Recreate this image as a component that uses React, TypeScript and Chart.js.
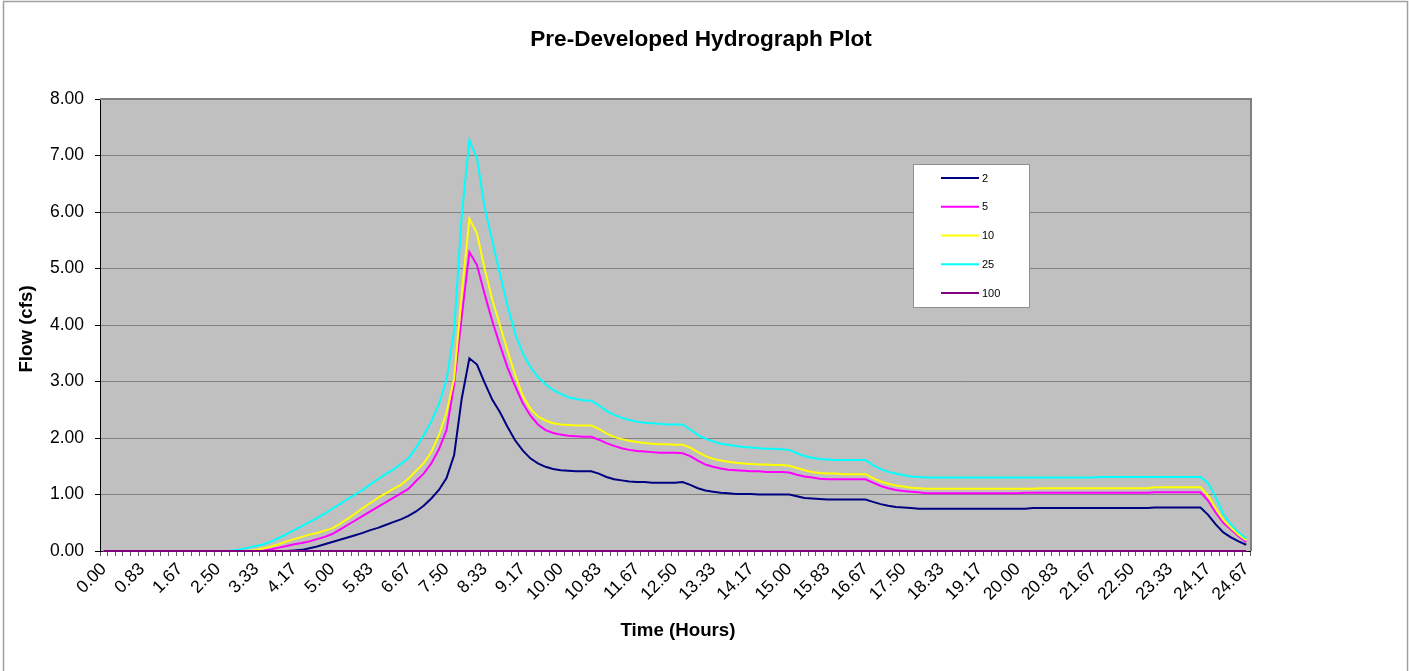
import React, { useEffect, useRef } from 'react';
import { Chart, registerables } from 'chart.js';

Chart.register(...registerables);

const FONT = '"Liberation Sans", Arial, Helvetica, sans-serif';

// Tick labels shown every 5th time step (hours)
const tickLabels = [
  '0.00', '0.83', '1.67', '2.50', '3.33', '4.17', '5.00', '5.83', '6.67', '7.50',
  '8.33', '9.17', '10.00', '10.83', '11.67', '12.50', '13.33', '14.17', '15.00', '15.83',
  '16.67', '17.50', '18.33', '19.17', '20.00', '20.83', '21.67', '22.50', '23.33', '24.17',
  '24.67',
];

const seriesNames = ['2', '5', '10', '25', '100'];
const seriesColors = ['#000080', '#FF00FF', '#FFFF00', '#00FFFF', '#800080'];

// Flow (cfs), one value per time step (151 steps)
const flow2 = [
  0, 0, 0, 0, 0, 0, 0, 0, 0, 0, 0, 0, 0, 0, 0, 0, 0, 0, 0, 0, 0, 0, 0, 0, 0,
  0.01, 0.02, 0.05, 0.08, 0.12, 0.16, 0.20, 0.24, 0.28, 0.32, 0.37, 0.41, 0.46, 0.51, 0.56, 0.62, 0.70, 0.80, 0.93, 1.08, 1.29, 1.70, 2.70, 3.41, 3.30,
  2.98, 2.68, 2.46, 2.20, 1.96, 1.78, 1.64, 1.55, 1.49, 1.45, 1.43, 1.42, 1.41, 1.41, 1.41, 1.37, 1.31, 1.27, 1.25, 1.23, 1.22, 1.22, 1.21, 1.21, 1.21,
  1.21, 1.22, 1.17, 1.11, 1.07, 1.05, 1.03, 1.02, 1.01, 1.01, 1.01, 1.00, 1.00, 1.00, 1.00, 1.00, 0.97, 0.94, 0.93, 0.92, 0.91, 0.91, 0.91, 0.91, 0.91,
  0.91, 0.87, 0.83, 0.80, 0.78, 0.77, 0.76, 0.75, 0.75, 0.75, 0.75, 0.75, 0.75, 0.75, 0.75, 0.75, 0.75, 0.75, 0.75, 0.75, 0.75, 0.75, 0.76, 0.76, 0.76,
  0.76, 0.76, 0.76, 0.76, 0.76, 0.76, 0.76, 0.76, 0.76, 0.76, 0.76, 0.76, 0.76, 0.77, 0.77, 0.77, 0.77, 0.77, 0.77, 0.77, 0.64, 0.47, 0.33, 0.24, 0.17,
  0.11,
];

const flow5 = [
  0, 0, 0, 0, 0, 0, 0, 0, 0, 0, 0, 0, 0, 0, 0, 0, 0, 0, 0, 0, 0, 0.01, 0.03, 0.06, 0.09,
  0.12, 0.14, 0.17, 0.21, 0.25, 0.30, 0.38, 0.46, 0.54, 0.62, 0.70, 0.78, 0.86, 0.94, 1.02, 1.10, 1.24, 1.37, 1.55, 1.80, 2.14, 2.95, 4.15, 5.29, 5.06,
  4.55, 4.07, 3.65, 3.25, 2.92, 2.62, 2.40, 2.24, 2.14, 2.09, 2.06, 2.04, 2.03, 2.02, 2.02, 1.97, 1.91, 1.86, 1.82, 1.79, 1.77, 1.76, 1.75, 1.74, 1.74,
  1.74, 1.73, 1.68, 1.60, 1.53, 1.49, 1.46, 1.44, 1.43, 1.42, 1.41, 1.41, 1.40, 1.40, 1.40, 1.39, 1.35, 1.32, 1.30, 1.28, 1.27, 1.27, 1.27, 1.27, 1.27,
  1.27, 1.21, 1.15, 1.11, 1.08, 1.06, 1.05, 1.04, 1.02, 1.02, 1.02, 1.02, 1.02, 1.02, 1.02, 1.02, 1.02, 1.02, 1.02, 1.02, 1.02, 1.03, 1.03, 1.03, 1.03,
  1.03, 1.03, 1.03, 1.03, 1.03, 1.03, 1.03, 1.03, 1.03, 1.03, 1.03, 1.03, 1.03, 1.04, 1.04, 1.04, 1.04, 1.04, 1.04, 1.04, 0.89, 0.68, 0.50, 0.38, 0.26,
  0.16,
];

const flow10 = [
  0, 0, 0, 0, 0, 0, 0, 0, 0, 0, 0, 0, 0, 0, 0, 0, 0, 0, 0, 0, 0.02, 0.05, 0.08, 0.12, 0.17,
  0.21, 0.25, 0.29, 0.32, 0.36, 0.40, 0.48, 0.57, 0.66, 0.76, 0.85, 0.94, 1.02, 1.10, 1.17, 1.28, 1.42, 1.55, 1.75, 2.05, 2.45, 3.05, 4.55, 5.88, 5.62,
  5.00, 4.45, 4.00, 3.55, 3.12, 2.75, 2.52, 2.38, 2.31, 2.26, 2.24, 2.23, 2.22, 2.22, 2.22, 2.16, 2.08, 2.02, 1.98, 1.95, 1.93, 1.91, 1.90, 1.89, 1.89,
  1.88, 1.88, 1.83, 1.75, 1.68, 1.63, 1.60, 1.58, 1.56, 1.55, 1.54, 1.53, 1.53, 1.52, 1.52, 1.51, 1.47, 1.43, 1.40, 1.38, 1.37, 1.37, 1.36, 1.36, 1.36,
  1.36, 1.29, 1.23, 1.19, 1.16, 1.14, 1.12, 1.11, 1.10, 1.10, 1.10, 1.10, 1.10, 1.10, 1.10, 1.10, 1.10, 1.10, 1.10, 1.10, 1.10, 1.10, 1.10, 1.11, 1.11,
  1.11, 1.11, 1.11, 1.11, 1.11, 1.11, 1.11, 1.11, 1.11, 1.11, 1.11, 1.11, 1.11, 1.13, 1.13, 1.13, 1.13, 1.13, 1.13, 1.13, 0.98, 0.75, 0.55, 0.41, 0.29,
  0.19,
];

const flow25 = [
  0, 0, 0, 0, 0, 0, 0, 0, 0, 0, 0, 0, 0, 0, 0, 0, 0, 0.01, 0.03, 0.06, 0.09, 0.12, 0.17, 0.23, 0.30,
  0.37, 0.44, 0.51, 0.58, 0.66, 0.75, 0.83, 0.92, 1.00, 1.08, 1.18, 1.27, 1.36, 1.44, 1.54, 1.64, 1.83, 2.05, 2.29, 2.60, 3.03, 3.90, 5.95, 7.27, 6.95,
  6.08, 5.50, 4.91, 4.35, 3.85, 3.50, 3.26, 3.08, 2.95, 2.85, 2.78, 2.72, 2.69, 2.67, 2.66, 2.58, 2.48, 2.41, 2.36, 2.32, 2.29, 2.27, 2.26, 2.25, 2.24,
  2.24, 2.24, 2.15, 2.05, 1.99, 1.94, 1.90, 1.88, 1.86, 1.84, 1.83, 1.82, 1.81, 1.81, 1.80, 1.79, 1.73, 1.68, 1.65, 1.63, 1.62, 1.61, 1.61, 1.61, 1.61,
  1.61, 1.52, 1.45, 1.40, 1.37, 1.34, 1.32, 1.31, 1.30, 1.30, 1.30, 1.30, 1.30, 1.30, 1.30, 1.30, 1.30, 1.30, 1.30, 1.30, 1.30, 1.30, 1.30, 1.30, 1.30,
  1.30, 1.30, 1.30, 1.30, 1.30, 1.30, 1.31, 1.31, 1.31, 1.31, 1.31, 1.31, 1.31, 1.31, 1.31, 1.31, 1.31, 1.31, 1.31, 1.31, 1.20, 0.95, 0.65, 0.47, 0.33,
  0.22,
];

const flow100 = [
  0, 0, 0, 0, 0, 0, 0, 0, 0, 0, 0, 0, 0, 0, 0, 0, 0, 0, 0, 0, 0, 0, 0, 0, 0,
  0, 0, 0, 0, 0, 0, 0, 0, 0, 0, 0, 0, 0, 0, 0, 0, 0, 0, 0, 0, 0, 0, 0, 0, 0,
  0, 0, 0, 0, 0, 0, 0, 0, 0, 0, 0, 0, 0, 0, 0, 0, 0, 0, 0, 0, 0, 0, 0, 0, 0,
  0, 0, 0, 0, 0, 0, 0, 0, 0, 0, 0, 0, 0, 0, 0, 0, 0, 0, 0, 0, 0, 0, 0, 0, 0,
  0, 0, 0, 0, 0, 0, 0, 0, 0, 0, 0, 0, 0, 0, 0, 0, 0, 0, 0, 0, 0, 0, 0, 0, 0,
  0, 0, 0, 0, 0, 0, 0, 0, 0, 0, 0, 0, 0, 0, 0, 0, 0, 0, 0, 0, 0, 0, 0, 0, 0,
  0,
];

const seriesValues = [flow2, flow5, flow10, flow25, flow100];
const LABEL_EVERY = 5;
const categories = flow2.map((_, i) => String(i));

const TITLE = 'Pre-Developed Hydrograph Plot';
const X_TITLE = 'Time (Hours)';
const Y_TITLE = 'Flow (cfs)';

const decorPlugin = {
  id: 'decor',
  beforeDraw(chart: any) {
    const { ctx, chartArea: a, width, height } = chart;
    ctx.save();
    ctx.fillStyle = '#ffffff';
    ctx.fillRect(0, 0, width, height);
    ctx.strokeStyle = '#a0a0a0';
    ctx.lineWidth = 1.5;
    ctx.strokeRect(3.5, 1.5, width - 5, height + 10);
    ctx.fillStyle = '#C0C0C0';
    ctx.fillRect(a.left, a.top, a.right - a.left, a.bottom - a.top);
    ctx.restore();
  },
  afterDatasetsDraw(chart: any) {
    const { ctx, chartArea: a } = chart;
    ctx.save();
    ctx.strokeStyle = '#808080';
    ctx.lineWidth = 2;
    ctx.beginPath();
    ctx.moveTo(a.left, a.top);
    ctx.lineTo(a.right + 1, a.top);
    ctx.lineTo(a.right + 1, a.bottom);
    ctx.stroke();
    ctx.restore();
  },
  afterDraw(chart: any) {
    const { ctx } = chart;
    ctx.save();
    ctx.fillStyle = '#000';
    ctx.textAlign = 'center';
    ctx.textBaseline = 'middle';
    ctx.font = `bold 22.6px ${FONT}`;
    ctx.fillText(TITLE, 701, 40);
    ctx.font = `bold 18.7px ${FONT}`;
    ctx.fillText(X_TITLE, 678, 631);
    ctx.save();
    ctx.translate(27, 329);
    ctx.rotate(-Math.PI / 2);
    ctx.fillText(Y_TITLE, 0, 0);
    ctx.restore();

    // legend box
    const lx = 913.5, ly = 164.5, lw = 116, lh = 143;
    ctx.fillStyle = '#ffffff';
    ctx.fillRect(lx, ly, lw, lh);
    ctx.strokeStyle = '#909090';
    ctx.lineWidth = 1;
    ctx.strokeRect(lx, ly, lw, lh);
    ctx.font = `11px ${FONT}`;
    ctx.textAlign = 'left';
    ctx.textBaseline = 'middle';
    seriesNames.forEach((name, i) => {
      const y = 178 + i * 28.75;
      ctx.strokeStyle = seriesColors[i];
      ctx.lineWidth = 2;
      ctx.beginPath();
      ctx.moveTo(941, y);
      ctx.lineTo(979, y);
      ctx.stroke();
      ctx.fillStyle = '#000';
      ctx.fillText(name, 982, y + 0.5);
    });
    ctx.restore();
  },
};

export default function App() {
  const canvasRef = useRef<HTMLCanvasElement | null>(null);

  useEffect(() => {
    const canvas = canvasRef.current;
    if (!canvas) return;
    const chart = new Chart(canvas, {
      type: 'line',
      data: {
        labels: categories,
        datasets: seriesValues.map((vals, i) => ({
          label: seriesNames[i],
          data: vals,
          borderColor: seriesColors[i],
          backgroundColor: seriesColors[i],
          borderWidth: 2,
          pointRadius: 0,
          tension: 0,
          fill: false,
          clip: false as any,
          order: seriesNames.length - 1 - i,
        })),
      },
      options: {
        animation: false,
        responsive: false,
        maintainAspectRatio: false,
        layout: { padding: { top: 99, right: 159, left: 0, bottom: 0 } },
        plugins: {
          legend: { display: false },
          title: { display: false },
          tooltip: { enabled: false },
        },
        scales: {
          x: {
            type: 'category',
            offset: true,
            grid: {
              offset: true,
              drawOnChartArea: false,
              drawTicks: true,
              tickLength: 5,
              color: '#606060',
              tickColor: '#606060',
            },
            border: { color: '#000', width: 1 },
            ticks: {
              autoSkip: false,
              maxRotation: 45,
              minRotation: 45,
              padding: 3,
              color: '#000',
              font: { family: FONT, size: 17.5 },
              callback: (_v: any, i: number) => (i % LABEL_EVERY === 0 ? tickLabels[i / LABEL_EVERY] : ''),
            },
            afterFit: (s: any) => {
              s.height = 120;
            },
          },
          y: {
            min: 0,
            max: 8,
            grid: { color: '#808080', tickColor: '#000', tickLength: 5 },
            border: { color: '#000', width: 1 },
            ticks: {
              stepSize: 1,
              color: '#000',
              padding: 11,
              font: { family: FONT, size: 17.5 },
              callback: (v: any) => Number(v).toFixed(2),
            },
            afterFit: (s: any) => {
              s.width = 100;
            },
          },
        },
      },
      plugins: [decorPlugin],
    } as any);
    return () => chart.destroy();
  }, []);

  return (
    <div style={{ position: 'fixed', left: 0, top: 0, width: 1409, height: 671, background: '#fff' }}>
      <canvas ref={canvasRef} width={1409} height={671} style={{ display: 'block' }} />
    </div>
  );
}
